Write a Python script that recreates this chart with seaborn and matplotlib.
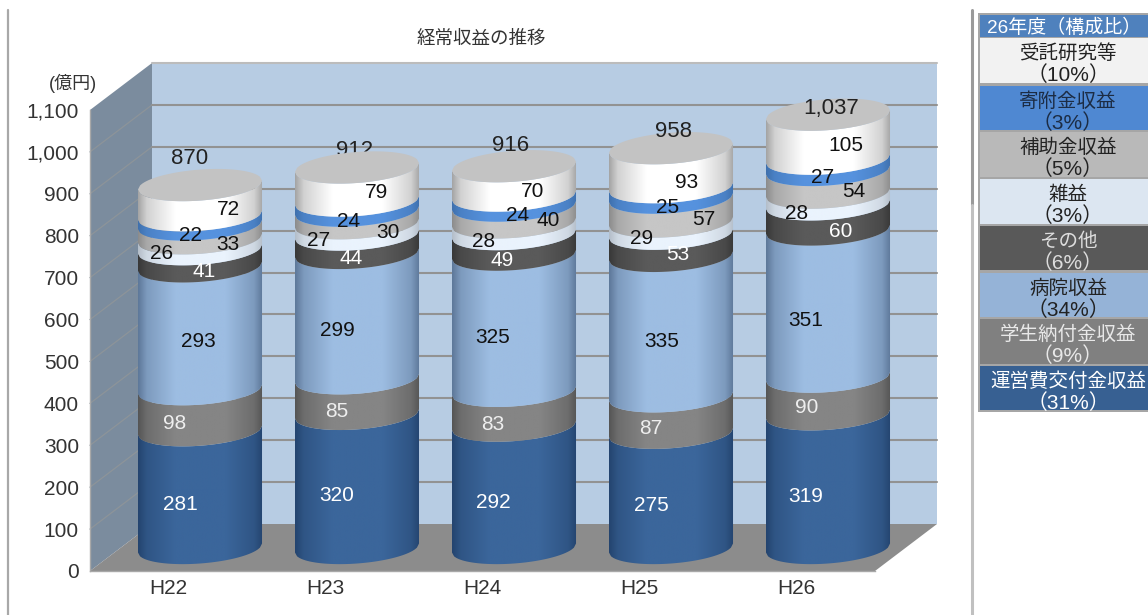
import numpy as np
import pandas as pd
import matplotlib
matplotlib.use("Agg")
import matplotlib.pyplot as plt
import seaborn as sns
from matplotlib.colors import LinearSegmentedColormap, to_rgb
from matplotlib.patches import PathPatch, Polygon, Rectangle
from matplotlib.path import Path

# ---------- data ----------
years = ["H22", "H23", "H24", "H25", "H26"]
totals = [870, 912, 916, 958, 1037]
series_names = ["運営費交付金収益", "学生納付金収益", "病院収益", "その他", "雑益", "補助金収益", "寄附金収益", "受託研究等"]
v_unei = [281, 320, 292, 275, 319]
v_gakusei = [98, 85, 83, 87, 90]
v_byoin = [293, 299, 325, 335, 351]
v_sonota = [41, 44, 49, 53, 60]
v_zatsu = [26, 27, 28, 29, 28]
v_hojo = [33, 30, 40, 57, 54]
v_kifu = [22, 24, 24, 25, 27]
v_jutaku = [72, 79, 70, 93, 105]
series_values = [v_unei, v_gakusei, v_byoin, v_sonota, v_zatsu, v_hojo, v_kifu, v_jutaku]

table_title = "26年度（構成比）"
table_names = ["受託研究等", "寄附金収益", "補助金収益", "雑益", "その他", "病院収益", "学生納付金収益", "運営費交付金収益"]
table_pcts = ["（10%）", "（3%）", "（5%）", "（3%）", "（6%）", "（34%）", "（9%）", "（31%）"]

# ---------- style ----------
W, H = 1148, 615
edge_colors = ["#24446f", "#555555", "#5d7899", "#383838", "#b4bec9", "#8c8c8c", "#3f70ad", "#a4a4a4"]
center_colors = ["#3b669b", "#858585", "#9dbde2", "#5a5a5a", "#eaf3fd", "#c6c6c6", "#5692de", "#ffffff"]
label_colors = ["white", "#eeeeee", "#111111", "white", "#111111", "#111111", "#111111", "#111111"]
table_fill = ["#f2f2f2", "#4f88d2", "#b9b9b9", "#dce6f1", "#595959", "#95b3d7", "#808080", "#376092"]
table_text = ["#222222", "#1c2c44", "#222222", "#222222", "#dddddd", "#222222", "#e8e8e8", "#ffffff"]
label_dx = [[-20, -25, -2, 4, -38, 28, -10, 28],
            [-20, -20, -20, -6, -38, 31, -8, 19],
            [-21, -21, -21, -12, -30, 34, 4, 19],
            [-20, -20, -9, 7, -29, 33, -3, 16],
            [-22, -21, -22, 13, -31, 26, -5, 18]]
label_dy = [[15, 14, 14, 14, 10, 13, 16, 9],
            [15, 15, 15, 15, 12, 16, 16, 8],
            [16, 16, 15, 16, 13, 7, 15, 11],
            [15, 14, 15, 10, 11, 10, 15, 15],
            [15, 12, 17, 15, 15, 10, 13, 9]]
total_dx = [-10, -2, -3, 2, 3]
total_dy = [27, 17, 21, 17, 6]
total_over_cap = [True, False, True, True, True]

sns.set_theme(style="white")
LATIN_CJK = ["Liberation Sans", "Noto Sans CJK JP"]
plt.rcParams["font.family"] = LATIN_CJK

fig = plt.figure(figsize=(W / 100, H / 100), dpi=100, facecolor="white")


def box(x0, y_top, x1, y_bottom):
    return [x0 / W, 1 - y_bottom / H, (x1 - x0) / W, (y_bottom - y_top) / H]


# decoration layer in pixel units
deco = fig.add_axes([0, 0, 1, 1], zorder=0)
deco.set_xlim(0, W)
deco.set_ylim(H, 0)
deco.axis("off")
deco.plot([7.5, 7.5], [10, H], color="#a8a8a8", lw=1.6)
deco.plot([971.5, 971.5], [10, 205], color="#9a9a9a", lw=2.2)
deco.plot([971.5, 971.5], [205, H], color="#c0c0c0", lw=2.2)

# legend table
deco.add_patch(Rectangle((978, 13), 172, 399, fc="#a6a6a6", ec="none"))
deco.add_patch(Rectangle((980, 15), 170, 22, fc="#4f81bd", ec="none"))
deco.text(1064, 28, table_title, color="white", fontsize=13.7, ha="center", va="center")
row_tops = [38, 86, 132, 179, 226, 273, 319, 366]
row_bottoms = [83, 130, 177, 224, 270, 317, 364, 410]
for name, pct, fill, tc, top, bot in zip(table_names, table_pcts, table_fill, table_text, row_tops, row_bottoms):
    deco.add_patch(Rectangle((980, top), 170, bot - top, fc=fill, ec="none"))
    deco.text(1068, top + 16, name, color=tc, fontsize=14, ha="center", va="center")
    deco.text(1068, top + 37, pct, color=tc, fontsize=15, ha="center", va="center")

deco.text(481, 39, "経常収益の推移", fontsize=13.3, color="#333333", ha="center", va="center")
deco.text(73, 83, "(億円)", fontsize=13, color="#333333", ha="center", va="center")

# value axis plane
ax = fig.add_axes(box(90, 110, 875, 571), zorder=1)
ax.patch.set_alpha(0)
ax.set_xlim(-0.5, 4.5)
ax.set_ylim(0, 1100)
depth_x = 62 / 157
depth_y = 47 / (461 / 1100)
ymax = 1100
ax.add_patch(Polygon([(-0.5 + depth_x, depth_y), (4.5 + depth_x, depth_y),
                      (4.5 + depth_x, ymax + depth_y), (-0.5 + depth_x, ymax + depth_y)],
                     fc="#b7cce3", ec="none", clip_on=False, zorder=0))
ax.add_patch(Polygon([(-0.5, 0), (-0.5 + depth_x, depth_y), (-0.5 + depth_x, ymax + depth_y), (-0.5, ymax)],
                     fc="#7b8c9e", ec="none", clip_on=False, zorder=0))
ax.add_patch(Polygon([(-0.5, 0), (-0.5 + depth_x, depth_y), (4.5 + depth_x, depth_y), (4.5, 0)],
                     fc="#8c8c8c", ec="none", clip_on=False, zorder=0))
for t in range(100, 1001, 100):
    ax.plot([-0.5, -0.5 + depth_x], [t, t + depth_y], color="#8d9499", lw=0.9, clip_on=False, zorder=1)
    ax.plot([-0.5 + depth_x, 4.5 + depth_x], [t + depth_y, t + depth_y],
            color="#929292", lw=1.5, clip_on=False, zorder=1)
ax.plot([-0.5 + depth_x, 4.5 + depth_x], [ymax + depth_y, ymax + depth_y],
        color="#bcbcbc", lw=1.5, clip_on=False, zorder=1)
ax.set_yticks(range(0, 1101, 100))
ax.set_yticklabels([f"{t:,}" for t in range(0, 1101, 100)], fontsize=15, color="#333333")
ax.set_xticks(range(len(years)))
ax.set_xticklabels([y for y in years], fontsize=15, color="#333333")
ax.set_xticks(np.arange(-0.5, 5), minor=True)
ax.tick_params(axis="x", which="major", length=0, pad=6)
ax.tick_params(axis="x", which="minor", length=4, color="#999999", width=1)
ax.tick_params(axis="y", length=3, color="#999999", width=1, pad=5)
ax.grid(False)
sns.despine(ax=ax)
for s in ("left", "bottom"):
    ax.spines[s].set_color("#a8a8a8")
    ax.spines[s].set_linewidth(1)

# cylinder layer: same value scale, shifted half way into the depth
px_per_unit = 461 / 1100
bar = fig.add_axes(box(121.5, 548 - 1200 * px_per_unit, 906.5, 548 + 100 * px_per_unit), zorder=2)
bar.patch.set_alpha(0)
bar.axis("off")

frame = pd.DataFrame({"year": years})
bottom = np.zeros(len(years))
bars_by_series = []
for name, vals, col in zip(series_names, series_values, center_colors):
    before = len(bar.patches)
    sns.barplot(data=frame.assign(v=vals), x="year", y="v", bottom=bottom, color=col,
                saturation=1, width=0.79, ax=bar)
    bars_by_series.append(list(bar.patches[before:]))
    bottom = bottom + np.array(vals)
bar.set_xlim(-0.5, 4.5)
bar.set_ylim(-100, 1200)
bar.axis("off")

semi_h = 15.5 / px_per_unit
slope = (9 / 124) * 157 / px_per_unit


def arc(xc, yc, a, start, stop, sign, n=60):
    t = np.linspace(start, stop, n)
    xs = xc + a * t
    ys = yc + slope * a * t + sign * semi_h * np.sqrt(np.clip(1 - t ** 2, 0, 1))
    return np.column_stack([xs, ys])


def closed(points):
    codes = [Path.MOVETO] + [Path.LINETO] * (len(points) - 1) + [Path.CLOSEPOLY]
    return Path(np.vstack([points, points[0]]), codes)


grad = np.linspace(0, 1, 256).reshape(1, -1)
for s, patches in enumerate(bars_by_series):
    e, c = np.array(to_rgb(edge_colors[s])), np.array(to_rgb(center_colors[s]))
    cmap = LinearSegmentedColormap.from_list(
        f"cyl{s}", [(0, e), (0.07, 0.5 * e + 0.5 * c), (0.3, c), (0.7, c), (0.93, 0.5 * e + 0.5 * c), (1, e)])
    for i, p in enumerate(patches):
        a = p.get_width() / 2
        xc = p.get_x() + a
        y0, y1 = p.get_y(), p.get_y() + p.get_height()
        p.set_visible(False)
        lower = arc(xc, y0, a, -1, 1, -1)
        upper = arc(xc, y1, a, 1, -1, -1)
        path = closed(np.vstack([lower, upper]))
        im = bar.imshow(grad, cmap=cmap, aspect="auto", zorder=3,
                        extent=(xc - a, xc + a, y0 - 2 * semi_h, y1 + 2 * semi_h))
        im.set_clip_path(PathPatch(path, transform=bar.transData))
        bar.annotate(str(series_values[s][i]), (xc, (y0 + y1) / 2),
                     xytext=(label_dx[i][s], -label_dy[i][s]), textcoords="offset pixels",
                     ha="center", va="center", fontsize=15, color=label_colors[s], zorder=6)
bar.set_xlim(-0.5, 4.5)
bar.set_ylim(-100, 1200)

# cylinder caps and totals
for i, p in enumerate(bars_by_series[-1]):
    a = p.get_width() / 2
    xc = p.get_x() + a
    y1 = p.get_y() + p.get_height()
    cap = closed(np.vstack([arc(xc, y1, a, -1, 1, -1), arc(xc, y1, a, 1, -1, 1)]))
    bar.add_patch(PathPatch(cap, fc="#c3c3c3", ec="none", zorder=4))
    bar.annotate(f"{totals[i]:,}", (xc, y1), xytext=(total_dx[i], total_dy[i]),
                 textcoords="offset pixels", ha="center", va="center",
                 fontsize=16, color="#222222", zorder=5 if total_over_cap[i] else 2)

fig.savefig("out.png", dpi=100)
